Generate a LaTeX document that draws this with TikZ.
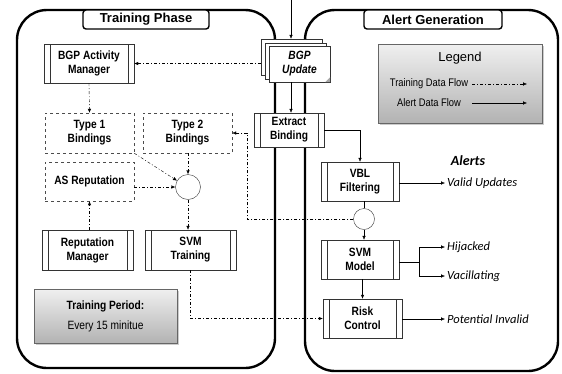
\documentclass[tikz,border=0pt]{standalone}
\usepackage{fontspec}
\setmainfont{Liberation Sans}
\newfontfamily\narrowfont[FakeStretch=0.85]{Liberation Sans}
\newfontfamily\alertfont{Carlito}
\usetikzlibrary{arrows.meta, shadows, calc}

\begin{document}
\begin{tikzpicture}[x=1pt, y=-1pt,
    panel/.style={line width=2.4pt, rounded corners=30pt},
    tab/.style={draw, line width=1.4pt, rounded corners=3pt, fill=white, inner sep=0pt,
        minimum height=19pt, font=\bfseries\fontsize{13}{15}\selectfont},
    procbox/.style={draw=black!80, fill=white, inner sep=0pt, align=center,
        font=\narrowfont\bfseries\fontsize{12}{14}\selectfont,
        path picture={\draw[black!80]
            ([xshift=6pt]path picture bounding box.north west) -- ([xshift=6pt]path picture bounding box.south west)
            ([xshift=-6pt]path picture bounding box.north east) -- ([xshift=-6pt]path picture bounding box.south east);}},
    databox/.style={draw=black!70, dashed, fill=white, inner sep=0pt, align=center,
        minimum width=89pt, font=\narrowfont\bfseries\fontsize{12}{14}\selectfont},
    sheet/.style={draw=black!80, fill=white, minimum width=61pt, minimum height=36pt, inner sep=0pt},
    joint/.style={circle, draw=black!80, fill=white, inner sep=0pt},
    shadebox/.style={draw=black!60, top color=gray!12, bottom color=gray!60, drop shadow={shadow xshift=2pt, shadow yshift=-2pt, opacity=0.4}},
    trainflow/.style={dash pattern=on 3pt off 2pt on 1pt off 2pt, -{Latex[length=4pt,width=3.5pt]}},
    alertflow/.style={-{Latex[length=4pt,width=3.5pt]}},
    alertlbl/.style={anchor=west, inner sep=2pt, font=\alertfont\itshape\fontsize{12.5}{14}\selectfont}]

    \useasboundingbox (0,0) rectangle (562,373);

    % Panels
    \draw[panel] (17,10) rectangle (275,368);
    \draw[panel] (305,10) rectangle (558,371);
    \node[tab, minimum width=126pt] (traintab) at (146,19.5) {Training Phase};
    \node[tab, minimum width=138pt] (alerttab) at (433,19.5) {Alert Generation};

    % Training side
    \node[procbox, minimum width=90pt, minimum height=39pt] (bam) at (89,63.5) {BGP Activity\\Manager};
    \node[databox, minimum height=40pt] (bind1) at (89.5,133) {Type 1\\Bindings};
    \node[databox, minimum height=40pt] (bind2) at (187.5,133) {Type 2\\Bindings};
    \node[databox, minimum height=39pt] (asrep) at (89.5,181.5) {AS Reputation};
    \node[joint, minimum size=25pt] (mixL) at (188,187) {};
    \node[procbox, minimum width=91pt, minimum height=40pt] (repmgr) at (87.5,250) {Reputation\\Manager};
    \node[procbox, minimum width=91pt, minimum height=40pt] (svmtrain) at (190.5,250) {SVM\\Training};
    \node[shadebox, minimum width=143pt, minimum height=54pt, align=center,
        font=\narrowfont\fontsize{12}{20}\selectfont] (period) at (105.5,316)
        {{\bfseries Training Period:}\\Every 15 minitue};

    % Incoming updates
    \coordinate (feed) at (291,0);
    \node[sheet] (sheet1) at (291.5,57) {};
    \node[sheet] (sheet2) at (295.5,61) {};
    \node[sheet, font=\narrowfont\bfseries\itshape\fontsize{12}{14}\selectfont, align=center] (bgp) at (299.5,64) {BGP\\Update};
    \fill[gray!70] ([xshift=-5pt]bgp.south east) -- ([yshift=5pt]bgp.south east) -- (bgp.south east) -- cycle;

    % Alert side
    \node[procbox, minimum width=70pt, minimum height=34pt] (extract) at (289,130) {Extract\\Binding};
    \node[procbox, minimum width=78pt, minimum height=39pt] (vbl) at (360,181.5) {VBL\\Filtering};
    \node[joint, minimum size=21pt] (mixR) at (364,219) {};
    \node[procbox, minimum width=78pt, minimum height=39pt] (svmmodel) at (360,259.5) {SVM\\Model};
    \node[procbox, minimum width=79pt, minimum height=39pt] (risk) at (362.5,318.5) {Risk\\Control};

    % Alerts
    \node[font=\alertfont\bfseries\itshape\fontsize{14}{16}\selectfont] (alerts) at (468,161) {Alerts};
    \node[alertlbl] (valid) at (445,183) {Valid Updates};
    \node[alertlbl] (hijack) at (445,247) {Hijacked};
    \node[alertlbl] (vacil) at (445,276) {Vacillating};
    \node[alertlbl] (potential) at (445,319) {Potential Invalid};
    \coordinate (fork) at (419,262);

    % Legend
    \node[shadebox, minimum width=164pt, minimum height=79pt] (legend) at (460,83.5) {};
    \node[font=\fontsize{13}{15}\selectfont] (legendtitle) at (460,58) {Legend};
    \node[font=\narrowfont\fontsize{11}{13}\selectfont] (lgtrain) at (429,84) {Training Data Flow};
    \node[font=\narrowfont\fontsize{11}{13}\selectfont] (lgalert) at (429,103) {Alert Data Flow};
    \coordinate (lt1) at (472,84);
    \coordinate (lt2) at (527,84);
    \coordinate (la1) at (472,103);
    \coordinate (la2) at (527,103);
    \draw[trainflow] (lt1) -- (lt2);
    \draw[alertflow] (la1) -- (la2);

    % Training data flow
    \coordinate (backbend) at (247,219);
    \draw[trainflow] (sheet1.west |- bam.east) -- (bam.east);
    \draw[trainflow] (bam.south) -- (bind1.north);
    \draw[trainflow] (bind1.south east) -- (mixL.150);
    \draw[trainflow] (mixL.north |- bind2.south) -- (mixL.north);
    \draw[trainflow] (asrep.east |- mixL.west) -- (mixL.west);
    \draw[trainflow] (mixL.south) -- (mixL.south |- svmtrain.north);
    \draw[trainflow] (asrep.south |- repmgr.north) -- (asrep.south);
    \draw[trainflow] (svmtrain.south) |- (risk.west);
    \draw[trainflow] (mixR.west) -- (backbend) |- (bind2.east);

    % Alert data flow
    \draw[alertflow] (feed) -- (feed |- sheet1.north);
    \draw[alertflow] (feed |- bgp.south) -- (feed |- extract.north);
    \draw[alertflow] (extract.east) -| (vbl.north);
    \draw (mixR.north |- vbl.south) -- (mixR.north);
    \draw[alertflow] (mixR.south) -- (mixR.south |- svmmodel.north);
    \draw[alertflow] (risk.north |- svmmodel.south) -- (risk.north);
    \draw[alertflow] (vbl.east |- valid.west) -- (valid.west);
    \draw (svmmodel.east |- fork) -- (fork);
    \draw[alertflow] (fork) |- (hijack.west);
    \draw[alertflow] (fork) |- (vacil.west);
    \draw[alertflow] (risk.east |- potential.west) -- (potential.west);
\end{tikzpicture}
\end{document}
